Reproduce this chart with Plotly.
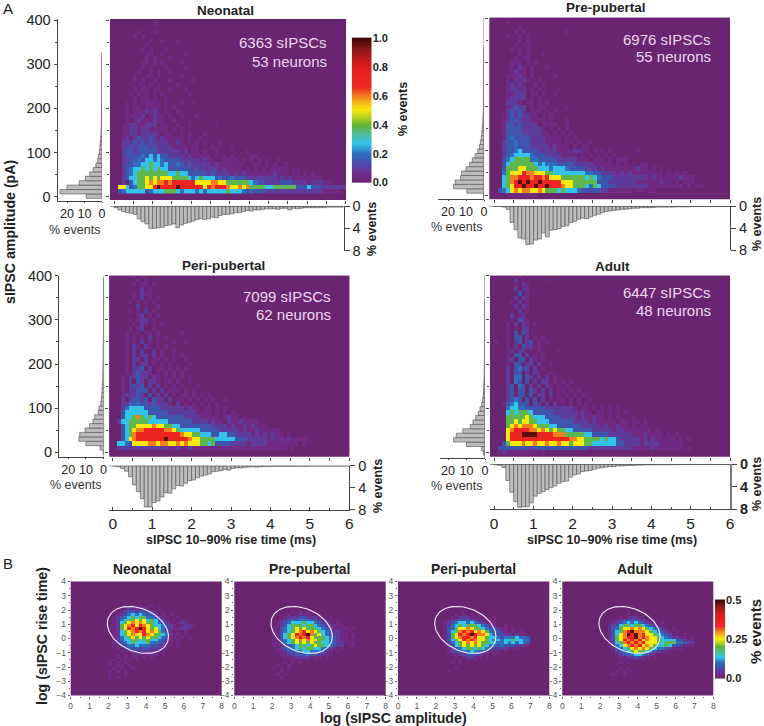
import plotly.graph_objects as go
import numpy as np

W, H = 764, 726
LEVELS = {'.': 0, '1': .04, '2': .09, '3': .15, '4': .2, '5': .27, '6': .38, '7': .5, '8': .6, '9': .72, '#': .97}
COLORS = [[0, '#6a2570'], [.05, '#722b88'], [.1, '#5a3fa0'], [.15, '#3f55ad'], [.2, '#2f6fbf'], [.27, '#33c3ea'],
          [.33, '#4dbd9a'], [.4, '#63b52f'], [.45, '#b5cf20'], [.5, '#f7e80f'], [.58, '#f7981d'], [.66, '#ef2a22'],
          [.8, '#e41b1e'], [.9, '#9b1a1a'], [1, '#3d0707']]

NEO_GRID = [
"", "...........1", "", ".......1...1", "......1.1", "..........1..1...1", ".........1", "........1.1...1",
".........11..1.....1", ".........1.1...1", "........11.1.1....1", "........1.1...1....1", ".......1..1.1..1",
"......1..11.1.....1", "......1.1..1...1.....1", ".......11.1.1....1", "......1.11.11..1...1", ".....1.1.1.1.1......1",
"......1.11.1..1", "....1.1.11111.1...1..1", "....1.11.1111.1.1", "....1.1112121.1..1", "....11112.1211.1..1...1",
"....1.12111211..1", "...112211222.11..1..1......1", "...112212211111.1.1", "...1122122221.11..1.1...1",
"...1212322321211111.1..1", "...2223232322221121.1.1.1...1", "...22323332322221111.11...1....1",
"...23323333322222212.11.1..1.......1", "...23333435353322221211111.1.1.1....11",
"...223343554543333222221211..1111.1.1.1.1..1", "...2334455655453343232222212111111...11.1.1..1",
"...2345565656553333332322222121111.1.1.1.11111.11", "...2345666666665565533333232222121211111112111.11.1.1",
"...2355667676777666654565553433433322222222121211111111", "...2.3566787889899999977778877666666543322223332222122211",
"..7753466779#9999#999999798999877878666655666666333533222222222222", "..3455555345556665455545455555655543433322222222222222211111",
]
NEO_LEFT = [9, 24, 20, 13, 9.5, 7, 5, 3.5, 2.5, 2, 1.5, 1.2, 1, .8, .6, .5, .4, .4, .3, .3, .25, .2, .2, .15, .15, .12, .1, .1, .1, .1, .08, .08, .06]
NEO_BOTTOM = [.3, .7, 1, 1.2, 1.3, 1.5, 2.3, 2.8, 3.2, 4, 4, 3.9, 3.8, 3.5, 3.4, 3.2, 3.9, 3.4, 3.1, 2.9, 2.7, 2.4, 2.3, 2.4, 2.3, 2, 2.1, 1.7, 1.5, 1.5, 1.4, 1.2, 1.2, 1, .8, .9, .7, .7, .6, .5, .5, .5, .6, .4, .4, .7, .4, .5, .4, .3, .3, .3, .3, .3, .3, .2, .2, .2, .2, .2]

PRE_GRID = [
"", "....1", ".......1", "......1.1..........1", "....1..1.1", ".......1.1", "......1.11", ".....1.1.1", ".......1.1...1",
"......1.11", ".....111.1.1", ".....1.21.1...1", ".....1211.1", "....11121.1.....1", "....1.2121..1", "....12121..1.1",
"....12212.1.1....1", "....11222.11.1..1", "....12222.1.1", "....2221.11.1.1", "....12322.1.11.....1", "....23232.111.1.1..",
"...123232211.1.1", "...12332221111.1...1", "...133232222.1111..1", "...13333222221.1.1.1", "...133332222211.1.1.1",
"...134333322221111.1.1", "...233433322221111.11.1..1", "...23343332222212111.1.11", "...2334533332222211112211.1.1.1......1",
"...2345555433322221111.1.1.1.1.1", "...3456666443333322222111.111.1.111", "...3566666654544433332222211111.1.1.1.11",
"...3666776665554555433332221211111111211.1.1", "...46777988777665555555544332222121211111111.1.1.1",
"...5688999899897776666665654333222222222121111112111", "...5689#9#99#999997776666663332222222111111211.1.111",
"...56799#99#99#9998776665465333322222222111111111.1.11", "..3457878877876665655543333322111111.11.11", "....11111111",
]
PRE_LEFT = [.2, 9.5, 17, 16, 13, 12.5, 10, 8, 6.5, 5, 3.5, 2.5, 2, 1.5, 1.2, 1, .8, .6, .5, .4, .3, .3, .25, .2, .2, .15, .15, .1, .1, .1, .08, .08, .06, .06]
PRE_BOTTOM = [.05, .05, .2, .6, 3, 4.3, 5.8, 6, 7, 6.9, 6.2, 6, 4.9, 5.6, 4.4, 4.3, 4.1, 3.7, 3.6, 3, 2.8, 2.4, 2.2, 2.3, 2, 1.7, 1.5, 1.2, 1, .9, .8, .7, .6, .6, .5, .4, .4, .3, .3, .3, .25, .2, .2, .2, .2, .2, .15, .15, .15, .15, .1, .1, .1, .1, .1, .1, .1, .1, .1, .1]

PERI_GRID = [
"......1.1", ".......1.1", "......1.11.1", "........2.1", "......1.211", "......1.2.1.1", ".....1.1.1.1", ".......2.1..1",
".....1.1.2.1", ".......12.1.1", ".....1.122.1", "......1.21.1.1", ".....1.12..1", "....1..1.11.1.....1", "....1.1.1.2.1.1",
"....1.1.2.1.1...1..1", "....1.21.21.1.1", "....1.2.2..2.1..1", "....1.2.22.2.1..1.1", "....1.22.2.11.1.1..1",
"....1.2.22.1.1.1....1", "....1.223.2.11.1.1.1", "....1.23221.1.1.1.1", "...1.22322.21.1.1.1.1", "...1.2.32.221.11.1..1",
"...1.2323.2.2.1.1.1...1", "...1.22333.2.2.111.1.1", "...122232.3.2.2.1.11.1.1.1", "...2.23323.322.2.11.1.1.1.1..1",
"...2243433232221.2.1.1.1.1.1", "...24555533332222221211.11.1.1", "...35555553333322222221111.1.1.1",
"...3556865653333333222211111.1211.1", "..255666665555533333322221211.21121111", "...3566777787766553333333322221211212111",
"...3567889999988765555533333222221211211111", "...35689999999999987766555335533222212121211.1",
"...35789999999#999998776666555553332222212121211111", "..5543777788788778787776656333322221222211111111.1",
"..2222222222222112112111111111111111111111111.1", "",
]
PERI_LEFT = [.3, 2, 10, 14, 13.5, 10.5, 8, 6, 5, 3, 2.5, 1.5, 1.2, 1, .8, .7, .5, .4, .4, .3, .3, .2, .2, .2, .15, .15, .1, .1, .1, .1, .1, .1, .1, .08, .08, .08, .06, .06, .06, .05]
PERI_BOTTOM = [.05, .2, .5, 1, 2, 3.5, 4.7, 6, 7.5, 7.5, 6.7, 6.4, 5.7, 4.9, 5, 4.2, 3.6, 3.7, 3.2, 2.7, 2.6, 2.2, 1.9, 1.7, 1.5, 1.1, 1, .9, .7, .8, .5, .4, .4, .3, .25, .2, .25, .2, .15, .15, .1, .1, .1, .1, .1, .08, .08, .08, .08, .08, .06, .06, .06, .06, .06, .06, .06, .06, .06, .06]

ADU_GRID = [
".....1.1", "......2.1.....1", "......1.21", "......2.12", ".......3.1", "......2.21", ".....1.2.1", "......2.21", ".......2.1",
".....2.12", ".....1.321", "....1.2.21.1", "....1.1.22", "....1.3.32", "....1.33.2.1.1", ".1..1.23.23.1.1", "....1.2.322.1",
"....12.22.1.1....1", "....1.33.2.1.1", "....12.33.21.1", "....1.33.22.2..1", "....2.3423.2.1", "....2.33.2.21..1",
"....2.44.32.2.2.1", "....2.43.3.2.22.1.1.1", "....23.43.2.2.21.1.1", "....23.33.32.2.2.11.1.1", "....23.33.3.22.2.1.1.1.11",
"....2343.3.3.2.1.11.1.1..1", "...1345333.32.2.2.1.1.1.1", "....455443333322222221.11.1.1.1.1",
"....5656665333332222221211.11.1.1.1", "....6666676555333322221211211.1.1...1", "....6676776655533333322221211111.11.11.1",
"....6787888766655333333222221211211.1.11", "....7899998878767665533333222221221111111.1",
"....7999####99998886666655333322222211121111.1.1", "....7999999999999999887766665655322222121211111.1.1",
"...3677787787787787767776655555533222212222111111", "..33333333233333333333333222222222221111121111111.1", "..1211111111.1",
]
ADU_LEFT = [.8, 1.8, 10, 17, 15.5, 12, 8, 6.5, 5, 3.6, 2.7, 1.8, 1.3, 1, .8, .7, .6, .5, .4, .4, .3, .3, .25, .2, .2, .2, .15, .15, .1, .1, .1, .1, .08, .08, .08]
ADU_BOTTOM = [.1, .2, .6, 2.9, 5, 6.7, 7.7, 7.6, 7.6, 6.9, 5.7, 5.2, 4.9, 4.5, 4.2, 3.9, 3.4, 3.1, 3, 2.3, 1.9, 1.7, 1.3, 1.2, 1.1, .9, .7, .6, .5, .4, .4, .3, .3, .25, .2, .2, .15, .15, .1, .1, .1, .08, .08, .08, .06, .06, .06, .05, .05, .05, .05, .05, .05, .05, .05, .05, .05, .05, .05, .05]

LOG_NEO = [
"......1.1.1..1", "......1212121..1", ".....1233233221.1", "....12345454332.1.1", "...123456566443211..1", "...124566767565321.1.1",
"...1256787876654321.121", "..112678979876554321.1221", "..11267989#9767542211221", "...1256789897876431.1.1", "...125678779876654211.1",
"...12456767676654311.1.1", "...1245566566554321.1..1", "...1234565556443311.1", "...1123445444332211.1", "....1.233323322211",
".....1.1222222111", "....1.1.1111111.1", "....1.1.11.1.1", "...1.1.1.1", "..1.1.1", "..1.11.1", "...1.1..1", "..1.1.1", "..1...1", "..1.1", "..1", "",
]
LOG_PRE = [
"", "", ".......1.1.1", "......1.1211..1", ".....12223322211.1", "....1234344433211.1", "...123455565543221.1", "...123566656654322111",
"..11345676766654321111.1", "..1134567897876543221.1", "..113567989#8675432211.1", "..11356789897666543211.1", "..112456787877665432111",
"..1124567676766554322111", "..1112345665676654322.11", "...1234456566554321.1", "...112334455444321.1", "....11223334332211", ".....1112222111.1",
".......1.1.1.1", ".....1.1.1", "...1..1", "..1.1.1", "....1", "...1.1", "....1", "", "",
]
LOG_PERI = [
"", "", ".........1", ".......1.1.1.1", "......112221.1...1", ".....12233332.1.1", "....123455454321.1", "....12456566654321..1",
"....13467787665433211.1", "....13568989787643321.1.1", "....1367989#98875433221211", "....136789989776554344454431",
"....135679898776545455655441", "....124567878766554454545431", "....12356767676544343332211", ".....1234566565432222111",
".....12334454432111.1", "......1122333211.1", ".......1.12211.1", "........1.1.1", "......1.1", "", ".......1", ".....1..", "", "", "", "",
]
LOG_ADU = [
"", "", ".........1", ".........1.1", ".......1.12211", "......123333221.1", ".....12345454321..1", "....123566566543211",
"....1346778787654321.1", "....135689#8887654321.1", "....13578#9#89776543211.1", "....1367899#8987765432211.1",
"....136798989787765555332111", "....125689898977765666443221", "....12457898978765565332111", ".....13456787876544321.1",
".....1234567665432111", "......12334554321.1", ".......11223211.1", "........1.11.1", ".......1.1", "", ".......1.1", "......1.1.1", ".....1..1", "", "", "",
]

TITLES = ['Neonatal', 'Pre-pubertal', 'Peri-pubertal', 'Adult']
COUNTS = ['6363 sIPSCs', '6976 sIPSCs', '7099 sIPSCs', '6447 sIPSCs']
NEURONS = ['53 neurons', '55 neurons', '62 neurons', '48 neurons']
GRIDS = [NEO_GRID, PRE_GRID, PERI_GRID, ADU_GRID]
LEFTS = [NEO_LEFT, PRE_LEFT, PERI_LEFT, ADU_LEFT]
BOTTOMS = [NEO_BOTTOM, PRE_BOTTOM, PERI_BOTTOM, ADU_BOTTOM]
LOGS = [LOG_NEO, LOG_PRE, LOG_PERI, LOG_ADU]

# pixel layout
PANELS = [
    dict(hx=(110, 346), hy=(19, 200), x0=114, x6=345.7, y400=20, y0=196.6, lz=102, l10=17.5, ll=57.6, laxy=200.7, bt=206, bb=250.7, br=343.5, row0=13, lrow0=1, labels=True, xlabels=False, bold=False),
    dict(hx=(489.3, 730), hy=(17.7, 199.3), x0=494.3, x6=730, y400=18, y0=195, lz=484, l10=18, ll=438, laxy=199.3, bt=206, bb=250, br=730, row0=-1, lrow0=-1, labels=False, xlabels=False, bold=False),
    dict(hx=(109.3, 349.3), hy=(275.7, 456.7), x0=112.7, x6=349.3, y400=275.7, y0=452.3, lz=103.5, l10=17.6, ll=59, laxy=456.7, bt=465.7, bb=509.7, br=349.3, row0=0, lrow0=0, labels=True, xlabels=True, bold=False),
    dict(hx=(490, 730), hy=(275.7, 456.7), x0=494, x6=730, y400=275.7, y0=452.7, lz=485, l10=18.5, ll=440, laxy=458, bt=464.3, bb=509, br=730, row0=0, lrow0=-1, labels=False, xlabels=True, bold=True),
]
CAP = [(225, 10), (606, 7), (223, 265), (612, 266)]
TXT = [(329, 43, 62), (713, 39, 57), (333, 296, 314), (713, 292, 310)]
ELABEL = [(102, 230), (484, 227), (103, 485), (484, 486)]
EVY = [(372, 229), (757, 224), (378, 486), (757, 484)]
LOGX = [(70.7, 221.7), (234.3, 385.7), (398, 549.3), (562.3, 713.3)]
LOGC = [141.7, 309, 474, 635]
LOGY = (581.5, 695.5)
FONT = 'Liberation Sans'
INK = '#222222'
AX = '#444444'


def fx(p):
    return p / W


def fy(p):
    return 1 - p / H


fig = go.Figure()
layout = {}
annos = []
shapes = []
n = 0


def new_axes(xa, ya):
    global n
    n += 1
    layout[f'xaxis{n}'] = dict(xa, anchor=f'y{n}')
    layout[f'yaxis{n}'] = dict(ya, anchor=f'x{n}')
    return f'x{n}', f'y{n}'


def note(x, y, text, size, anchor='center', angle=0, color=INK):
    annos.append(dict(x=fx(x), y=fy(y), xref='paper', yref='paper', text=text, showarrow=False, xanchor=anchor, yanchor='middle',
                      textangle=angle, font=dict(size=size, color=color, family=FONT)))


def decode(rows, width):
    return [[LEVELS[c] for c in r.ljust(width, '.')[:width]] for r in rows[::-1]]


for i, p in enumerate(PANELS):
    s = (p['x6'] - p['x0']) / 6
    v = (p['y0'] - p['y400']) / 400
    xr = lambda a, b: [(a - p['x0']) / s, (b - p['x0']) / s]
    yr = lambda top, bot: [(p['y0'] - bot) / v, (p['y0'] - top) / v]
    dom_y = [fy(p['hy'][1]), fy(p['hy'][0])]
    xa, ya = new_axes(
        dict(domain=[fx(p['hx'][0]), fx(p['hx'][1])], range=xr(*p['hx']), showgrid=False, zeroline=False, showticklabels=False,
             ticks='outside', ticklen=3, tickcolor=AX, dtick=1, tick0=0, minor=dict(dtick=.5, ticks='outside', ticklen=3, tickcolor=AX)),
        dict(domain=dom_y, range=yr(*p['hy']), showgrid=False, zeroline=False, showticklabels=False,
             ticks='outside', ticklen=3, tickcolor=AX, dtick=100, tick0=0, minor=dict(dtick=50, ticks='outside', ticklen=2, tickcolor=AX)))
    fig.add_trace(go.Heatmap(z=decode(GRIDS[i], 61), x0=-.05, dx=.1, y0=p['row0'], dy=10, coloraxis='coloraxis', xaxis=xa, yaxis=ya,
                             hoverinfo='skip'))
    shapes.append(dict(type='rect', xref='paper', yref='paper', x0=fx(p['hx'][0]), x1=fx(p['hx'][1]), y0=dom_y[0], y1=dom_y[1],
                       fillcolor='#6a2570', line=dict(width=0), layer='below'))
    lx, ly = new_axes(
        dict(domain=[fx(p['ll']), fx(p['lz'])], range=[(p['lz'] - p['ll']) / p['l10'] * 10, 0], showgrid=False, zeroline=False,
             showline=True, linecolor=AX, linewidth=1, tickvals=[0, 10, 20], ticks='outside', ticklen=1, tickcolor=AX,
             tickfont=dict(size=12.5, color=INK, family=FONT), side='bottom'),
        dict(domain=[fy(p['laxy']), dom_y[1]], range=yr(p['hy'][0], p['laxy']), showgrid=False, zeroline=False,
             showline=p['labels'], linecolor=AX, linewidth=1, side='left', showticklabels=p['labels'], tickvals=[0, 100, 200, 300, 400],
             ticks='outside' if p['labels'] else '', ticklen=3, tickcolor=AX, tickfont=dict(size=14.5, color=INK, family=FONT),
             minor=dict(dtick=50, ticks='outside' if p['labels'] else '', ticklen=2, tickcolor=AX)))
    vals = LEFTS[i]
    fig.add_trace(go.Bar(x=vals, y=[p['lrow0'] + 10 * k for k in range(len(vals))], orientation='h', width=10, xaxis=lx, yaxis=ly,
                         marker=dict(color='#bdbdbd', line=dict(color='#4d4d4d', width=.6)), hoverinfo='skip'))
    if not p['labels'] or i == 2:
        shapes.append(dict(type='line', xref=lx, yref=f'{ly} domain', x0=0, x1=0, y0=0, y1=1, line=dict(color='#777777', width=1)))
    bx, by = new_axes(
        dict(domain=[fx(p['hx'][0]), fx(p['br'])], range=xr(p['hx'][0], p['br']), showgrid=False, zeroline=False,
             showline=p['xlabels'], linecolor=AX, linewidth=1, showticklabels=p['xlabels'], tickvals=list(range(7)),
             ticks='inside' if p['xlabels'] else '', ticklen=3, tickcolor=AX, tickfont=dict(size=15.5, color=INK, family=FONT),
             minor=dict(dtick=.5, ticks='inside' if p['xlabels'] else '', ticklen=2, tickcolor=AX), side='bottom'),
        dict(domain=[fy(p['bb']), fy(p['bt'])], range=[8, 0], showgrid=False, zeroline=False, side='right', showline=True,
             linecolor='#777777' if p['bold'] else AX, linewidth=2 if p['bold'] else 1, tickvals=[0, 4, 8],
             ticktext=[f'<b>{t}</b>' if p['bold'] else str(t) for t in (0, 4, 8)], ticks='outside', ticklen=5, tickcolor=AX,
             tickfont=dict(size=14.5, color=INK, family=FONT)))
    vals = BOTTOMS[i]
    fig.add_trace(go.Bar(x=[.05 + .1 * k for k in range(len(vals))], y=vals, width=.1, xaxis=bx, yaxis=by,
                         marker=dict(color='#bdbdbd', line=dict(color='#4d4d4d', width=.6)), hoverinfo='skip'))
    shapes.append(dict(type='line', xref=f'{bx} domain', yref=by, x0=0, x1=1, y0=0, y1=0, line=dict(color='#444444', width=1)))
    note(CAP[i][0], CAP[i][1], f'<b>{TITLES[i]}</b>', 13.5)
    note(TXT[i][0], TXT[i][1], COUNTS[i], 15, 'right', color='#ead9ee')
    note(TXT[i][0], TXT[i][2], NEURONS[i], 15, 'right', color='#ead9ee')
    note(ELABEL[i][0], ELABEL[i][1], '% events', 12.5, 'right', color='#333333')
    note(EVY[i][0], EVY[i][1], '<b>% events</b>', 12.5, angle=-90)
    if p['xlabels']:
        note((p['x0'] + p['x6']) / 2, 540, '<b>sIPSC 10–90% rise time (ms)</b>', 12.5)

note(403, 109, '<b>% events</b>', 12.5, angle=-90)
note(8, 8, 'A', 15)
note(8, 563, 'B', 15)
note(10, 232, '<b>sIPSC amplitude (pA)</b>', 14.2, angle=-90)
note(42, 636, '<b>log (sIPSC rise time)</b>', 14.2, angle=-90)
note(393, 718, '<b>log (sIPSC amplitude)</b>', 14.2)
note(755, 632, '<b>% events</b>', 15, angle=-90)

ELL_CX, ELL_CY, ELL_RX, ELL_RY, ELL_RHO = 3.56, .6, 1.62, 1.65, -.28
t = np.linspace(0, 2 * np.pi, 90)
ex = ELL_CX + ELL_RX * np.cos(t)
ey = ELL_CY + ELL_RY * np.cos(t + np.arccos(ELL_RHO))
for i, (a, b) in enumerate(LOGX):
    f = dict(size=8.5, color='#555555', family=FONT)
    xa, ya = new_axes(
        dict(domain=[fx(a), fx(b)], range=[0, 8], showgrid=False, zeroline=False, dtick=1, tick0=0, ticks='outside', ticklen=2, tickcolor='#666666',
             minor=dict(dtick=.5, ticks='outside', ticklen=1, tickcolor='#666666'), tickfont=f),
        dict(domain=[fy(LOGY[1]), fy(LOGY[0])], range=[-4, 4], showgrid=False, zeroline=False, dtick=1, tick0=-4, ticks='outside', ticklen=2, tickcolor='#666666',
             minor=dict(dtick=.5, ticks='outside', ticklen=1, tickcolor='#666666'), tickfont=f))
    shapes.append(dict(type='rect', xref='paper', yref='paper', x0=fx(a), x1=fx(b), y0=fy(LOGY[1]), y1=fy(LOGY[0]),
                       fillcolor='#6a2570', line=dict(width=0), layer='below'))
    r = LOGS[i]
    fig.add_trace(go.Heatmap(z=[[q * .5 for q in row] for row in decode(r, 27)], x0=1.7, dx=.2, y0=2.3 - .2 * (len(r) - 1), dy=.2,
                             coloraxis='coloraxis2', xaxis=xa, yaxis=ya, hoverinfo='skip'))
    fig.add_trace(go.Scatter(x=ex, y=ey, mode='lines', line=dict(color='#f6ecf8', width=1.1), xaxis=xa, yaxis=ya, hoverinfo='skip'))
    note(LOGC[i], 569, f'<b>{TITLES[i]}</b>', 13.8)

# colour keys drawn as narrow heatmaps on their own axes
BAR_TOP = [0, .2, .4, .6, .8, 1]
BAR_TOP_TEXT = ['0.0', '0.2', '0.4', '0.6', '0.8', '1.0']
BAR_LOW = [0, .25, .5]
BAR_LOW_TEXT = ['0.0', '0.25', '0.5']
keyf = dict(size=11, color=INK, family=FONT)
for (a, b, top, bot, vmax, vals, txt, cax) in [
    (351.7, 371.7, 36.7, 184, 1, BAR_TOP, BAR_TOP_TEXT, 'coloraxis'),
    (715, 725, 599, 679, .5, BAR_LOW, BAR_LOW_TEXT, 'coloraxis2'),
]:
    xa, ya = new_axes(
        dict(domain=[fx(a), fx(b)], range=[0, 1], visible=False),
        dict(domain=[fy(bot), fy(top)], range=[-.01 * vmax, 1.01 * vmax], side='right', showgrid=False, zeroline=False, showline=False, ticks='',
             tickvals=vals, ticktext=[f'<b>{q}</b>' for q in txt], tickfont=keyf))
    ramp = np.linspace(0, vmax, 150)
    fig.add_trace(go.Heatmap(z=[[q] for q in ramp], x0=.5, dx=1, y=ramp, coloraxis=cax, xaxis=xa, yaxis=ya, hoverinfo='skip'))

fig.update_layout(
    width=W, height=H, margin=dict(l=0, r=0, t=0, b=0, pad=0, autoexpand=False), autosize=False, showlegend=False, paper_bgcolor='white', plot_bgcolor='rgba(0,0,0,0)',
    barmode='overlay', annotations=annos, shapes=shapes,
    coloraxis=dict(cmin=0, cmax=1, colorscale=COLORS, showscale=False),
    coloraxis2=dict(cmin=0, cmax=.5, colorscale=COLORS, showscale=False),
    **layout)
fig.write_html('out.html', config={'displayModeBar': False}, post_script="document.body.style.margin='0';document.documentElement.style.overflow='hidden';")
